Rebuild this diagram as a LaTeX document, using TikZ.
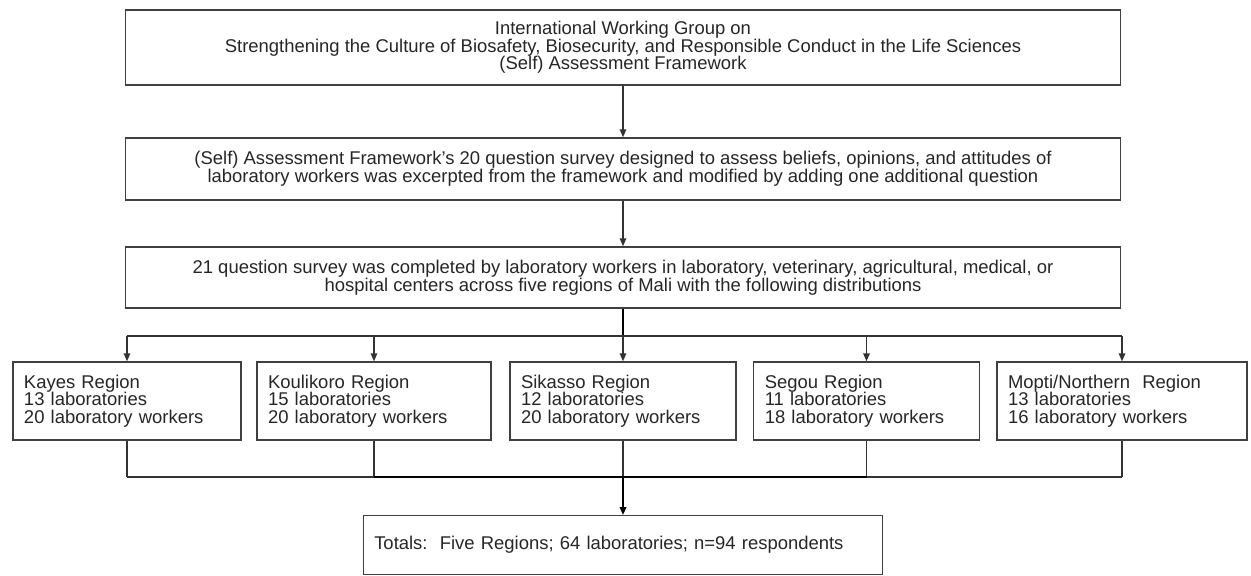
\documentclass[tikz,border=0pt]{standalone}
\usepackage{fontspec}
\setmainfont{Liberation Sans}
\usetikzlibrary{arrows.meta,calc}

\tikzset{
  box/.style={draw=black!75, line width=0.8pt, text=black!85, align=center,
    font=\fontsize{10.5pt}{10pt}\selectfont},
  region/.style={box, align=left, inner xsep=0.22cm, minimum height=1.56cm},
  arr/.style={-{Triangle[length=1.6mm,width=1.3mm]}},
  wire/.style={draw=black!80, line width=0.8pt},
  trunk/.style={draw=black, line width=1.4pt}
}

\begin{document}
\begin{tikzpicture}
            \useasboundingbox (0,0) rectangle (25.02,-11.52);
            \node[box, minimum width=19.91cm, minimum height=1.5cm] at (12.46,-0.95) (intl) {International Working Group on\\Strengthening the Culture of Biosafety, Biosecurity, and Responsible Conduct in the Life Sciences\\(Self) Assessment Framework};
            \node[box, minimum width=19.91cm, minimum height=1.24cm] at (12.46,-3.38) (survey20) {(Self) Assessment Framework’s 20 question survey designed to assess beliefs, opinions, and attitudes of\\laboratory workers was excerpted from the framework and modified by adding one additional question};
            \node[box, minimum width=19.91cm, minimum height=1.22cm] at (12.46,-5.55) (survey21) {21 question survey was completed by laboratory workers in laboratory, veterinary, agricultural, medical, or\\hospital centers across five regions of Mali with the following distributions};
            % regions
            \node[region, text width=4.12cm] at (2.54,-8.02) (kayes) {Kayes Region\\13 laboratories\\20 laboratory workers};
            \node[region, text width=4.24cm] at (7.48,-8.02) (koulikoro) {Koulikoro Region\\15 laboratories\\20 laboratory workers};
            \node[region, text width=4.08cm] at (12.46,-8.02) (sikasso) {Sikasso Region\\12 laboratories\\20 laboratory workers};
            \node[region, text width=4.07cm] at (17.33,-8.02) (segou) {Segou Region\\11 laboratories\\18 laboratory workers};
            \node[region, text width=4.56cm] at (22.44,-8.02) (mopti) {Mopti/Northern\ \ Region\\13 laboratories\\16 laboratory workers};
            \node[region, text width=9.95cm, minimum height=1.17cm] at (12.46,-10.9) (totals) {Totals:\ \ Five Regions; 64 laboratories; n=94 respondents};
            \coordinate (split) at (12.46,-6.72);
            \coordinate (join) at (12.46,-9.54);
            \draw[wire, arr] (intl) -- (survey20);
            \draw[wire, arr] (survey20) -- (survey21);
            \draw[trunk] (survey21) -- (split);
            \draw[wire] (split -| kayes.north) -- (split -| mopti.north);
            \foreach \r in {kayes,koulikoro,sikasso,segou,mopti}
            \draw[wire, arr] (split -| \r.north) -- (\r.north);
            \foreach \r in {kayes,koulikoro,sikasso,segou,mopti}
            \draw[wire] (\r.south) -- (join -| \r.south);
            \draw[wire] (join -| kayes.south) -- (join -| mopti.south);
            \draw[trunk] (join -| koulikoro.south) -- (join -| segou.south);
            \draw[trunk, arr] (join) -- (totals);
        \end{tikzpicture}
\end{document}
